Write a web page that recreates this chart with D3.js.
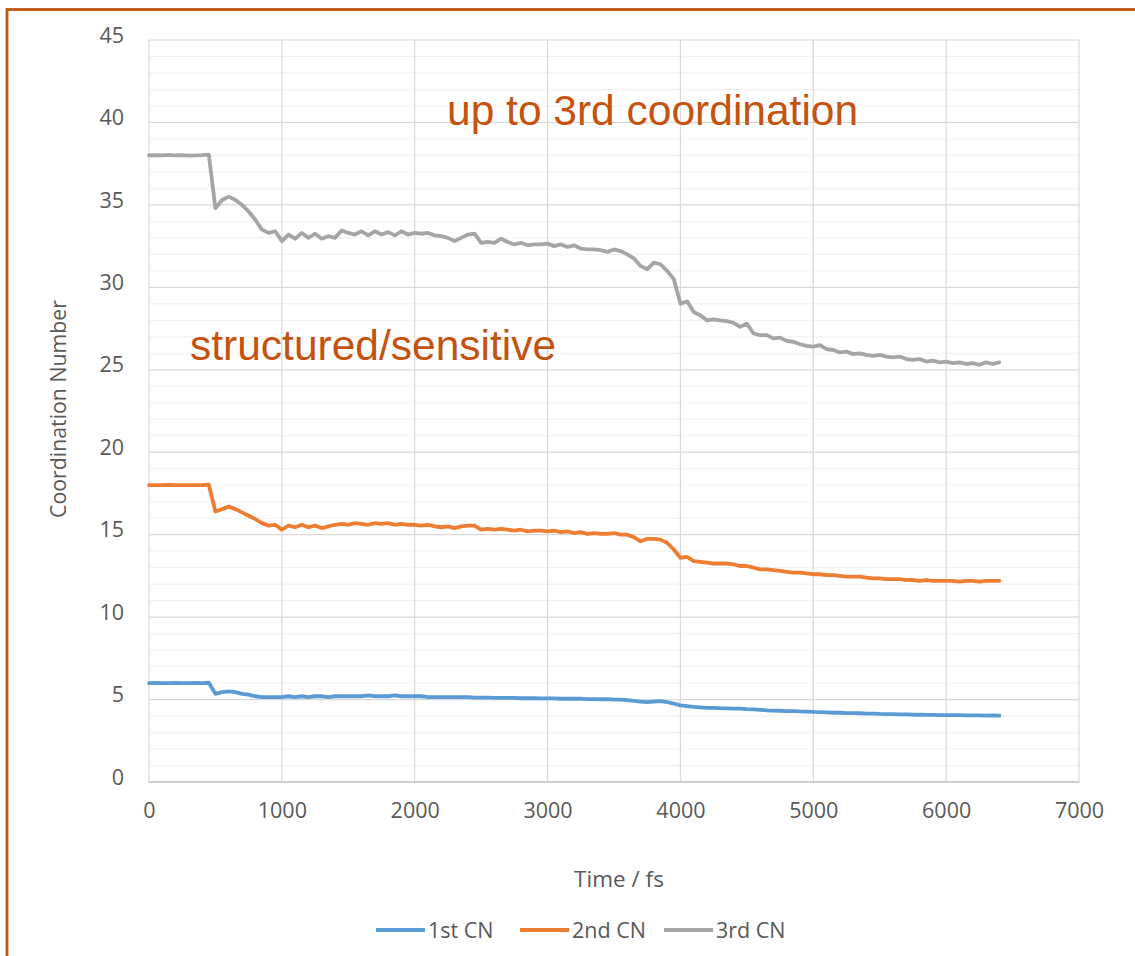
<!DOCTYPE html>
<html>
<head>
<meta charset="utf-8">
<script src="https://cdn.jsdelivr.net/npm/d3@7"></script>
<style>
  html, body { margin: 0; padding: 0; background: #ffffff; }
  svg { display: block; }
</style>
</head>
<body>
<svg id="chart" width="1135" height="956"></svg>
<script>
// Coordination numbers sampled every 50 fs, from 0 to 6400 fs
const timeStep = 50;

const cn1st = [
  6.0, 6.01, 6.0, 6.0, 6.01, 6.0, 6.0, 6.01, 6.0, 6.02,
  5.35, 5.45, 5.5, 5.45, 5.35, 5.3, 5.2, 5.15, 5.15, 5.15,
  5.15, 5.2, 5.15, 5.2, 5.15, 5.2, 5.2, 5.15, 5.2, 5.2,
  5.2, 5.2, 5.2, 5.25, 5.2, 5.2, 5.2, 5.25, 5.2, 5.2,
  5.2, 5.2, 5.15, 5.15, 5.15, 5.15, 5.15, 5.15, 5.15, 5.12,
  5.12, 5.12, 5.1, 5.1, 5.1, 5.1, 5.08, 5.08, 5.08, 5.07,
  5.07, 5.07, 5.05, 5.05, 5.05, 5.05, 5.03, 5.03, 5.02, 5.02,
  5.0, 5.0, 4.97, 4.92, 4.88, 4.85, 4.88, 4.9, 4.85, 4.75,
  4.65, 4.6, 4.55, 4.53, 4.5, 4.5, 4.48, 4.47, 4.45, 4.45,
  4.42, 4.4, 4.38, 4.35, 4.33, 4.32, 4.3, 4.3, 4.28, 4.27,
  4.25, 4.24, 4.22, 4.2, 4.2, 4.18, 4.18, 4.17, 4.15, 4.15,
  4.13, 4.12, 4.12, 4.1, 4.1, 4.08, 4.08, 4.07, 4.07, 4.06,
  4.05, 4.05, 4.05, 4.04, 4.04, 4.04, 4.03, 4.04, 4.03
];

const cn2nd = [
  18.0, 18.01, 18.0, 18.02, 18.0, 18.01, 18.0, 18.0, 18.01, 18.03,
  16.4, 16.55, 16.7, 16.55, 16.35, 16.15, 15.95, 15.7, 15.55, 15.6,
  15.3, 15.55, 15.45, 15.6, 15.45, 15.55, 15.4, 15.5, 15.6, 15.65,
  15.6, 15.7, 15.65, 15.6, 15.7, 15.65, 15.7, 15.6, 15.65, 15.6,
  15.6, 15.55, 15.6, 15.5, 15.45, 15.5, 15.4, 15.5, 15.55, 15.55,
  15.3, 15.35, 15.3, 15.35, 15.3, 15.25, 15.3, 15.2, 15.25, 15.25,
  15.2, 15.25, 15.15, 15.2, 15.1, 15.15, 15.05, 15.1, 15.05, 15.05,
  15.1, 15.0, 15.0, 14.85, 14.6, 14.75, 14.75, 14.7, 14.5, 14.1,
  13.6, 13.65, 13.4, 13.35, 13.3, 13.25, 13.25, 13.25, 13.2, 13.1,
  13.1, 13.0, 12.9, 12.9, 12.85, 12.8, 12.75, 12.7, 12.7, 12.65,
  12.6, 12.6, 12.55, 12.55, 12.5, 12.45, 12.45, 12.45, 12.4, 12.35,
  12.35, 12.3, 12.3, 12.3, 12.25, 12.25, 12.2, 12.25, 12.2, 12.2,
  12.2, 12.2, 12.15, 12.2, 12.2, 12.15, 12.2, 12.2, 12.2
];

const cn3rd = [
  38.0, 38.02, 38.0, 38.03, 38.0, 38.02, 37.99, 38.0, 38.02, 38.05,
  34.8, 35.3, 35.5, 35.3, 35.0, 34.6, 34.1, 33.5, 33.3, 33.4,
  32.8, 33.2, 32.95, 33.3, 33.0, 33.25, 32.95, 33.1, 33.0, 33.45,
  33.3, 33.2, 33.4, 33.15, 33.4, 33.2, 33.35, 33.15, 33.4, 33.2,
  33.3, 33.25, 33.3, 33.15, 33.1, 33.0, 32.8, 33.0, 33.2, 33.25,
  32.7, 32.75, 32.7, 32.95, 32.75, 32.6, 32.7, 32.55, 32.6, 32.6,
  32.65, 32.5, 32.6, 32.45, 32.55, 32.35, 32.3, 32.3, 32.25, 32.15,
  32.3, 32.2, 32.0, 31.75, 31.3, 31.1, 31.5, 31.4, 31.0, 30.5,
  29.0, 29.15, 28.5, 28.3, 28.0, 28.05, 28.0, 27.95, 27.85, 27.6,
  27.8, 27.2, 27.1, 27.1, 26.9, 26.95, 26.75, 26.7, 26.55, 26.45,
  26.4, 26.5, 26.25, 26.2, 26.05, 26.1, 25.95, 26.0, 25.9, 25.85,
  25.9, 25.8, 25.75, 25.8, 25.65, 25.6, 25.65, 25.5, 25.55, 25.45,
  25.5, 25.4, 25.45, 25.35, 25.4, 25.3, 25.45, 25.35, 25.45
];

const seriesNames = ["1st CN", "2nd CN", "3rd CN"];
const seriesColors = ["#5B9BD5", "#ED7D31", "#A5A5A5"];
const xTicks = [0, 1000, 2000, 3000, 4000, 5000, 6000, 7000];
const yTicks = [0, 5, 10, 15, 20, 25, 30, 35, 40, 45];
const yMinorTicks = d3.range(0, 46, 1);
const xTitle = "Time / fs";
const yTitle = "Coordination Number";
const noteTop = "up to 3rd coordination";
const noteMid = "structured/sensitive";

const svg = d3.select("#chart");
const W = 1135, H = 956;
const plot = { left: 149, right: 1079, top: 40, bottom: 782 };

const labelFont = "'Open Sans', 'DejaVu Sans', sans-serif";
const labelColor = "#595959";
const accent = "#C4530F";

svg.append("rect").attr("width", W).attr("height", H).attr("fill", "#ffffff");

// Frame around the slide region
svg.append("rect")
  .attr("x", 7).attr("y", 9.5)
  .attr("width", W + 20).attr("height", H + 20)
  .attr("fill", "none")
  .attr("stroke", accent)
  .attr("stroke-width", 2.8);

const x = d3.scaleLinear().domain([0, 7000]).range([plot.left, plot.right]);
const y = d3.scaleLinear().domain([0, 45]).range([plot.bottom, plot.top]);

// Minor horizontal gridlines
svg.append("g")
  .selectAll("line")
  .data(yMinorTicks.filter(v => v % 5 !== 0))
  .join("line")
  .attr("x1", plot.left).attr("x2", plot.right)
  .attr("y1", d => y(d)).attr("y2", d => y(d))
  .attr("stroke", "#efefef").attr("stroke-width", 1);

// Major horizontal gridlines
svg.append("g")
  .selectAll("line")
  .data(yTicks.filter(v => v !== 0))
  .join("line")
  .attr("x1", plot.left).attr("x2", plot.right)
  .attr("y1", d => y(d)).attr("y2", d => y(d))
  .attr("stroke", "#d9d9d9").attr("stroke-width", 1.2);

// Vertical gridlines
svg.append("g")
  .selectAll("line")
  .data(xTicks)
  .join("line")
  .attr("x1", d => x(d)).attr("x2", d => x(d))
  .attr("y1", plot.top).attr("y2", plot.bottom)
  .attr("stroke", "#d9d9d9").attr("stroke-width", 1.2);

// Horizontal axis line
svg.append("line")
  .attr("x1", plot.left).attr("x2", plot.right)
  .attr("y1", y(0)).attr("y2", y(0))
  .attr("stroke", "#bfbfbf").attr("stroke-width", 1.5);

// Axes (labels only; lines handled above)
const xAxis = svg.append("g")
  .attr("transform", `translate(0,${plot.bottom + 18})`)
  .call(d3.axisBottom(x).tickValues(xTicks).tickSize(0).tickFormat(d3.format("d")));
xAxis.select(".domain").remove();
xAxis.selectAll("text")
  .attr("font-family", labelFont).attr("font-size", 21.5)
  .attr("fill", labelColor).attr("dy", "0.71em");

const yAxis = svg.append("g")
  .attr("transform", `translate(${plot.left - 22},0)`)
  .call(d3.axisLeft(y).tickValues(yTicks).tickSize(0).tickFormat(d3.format("d")));
yAxis.select(".domain").remove();
yAxis.selectAll("text")
  .attr("font-family", labelFont).attr("font-size", 21.5)
  .attr("fill", labelColor).attr("dy", "0.1em");

// Axis titles
svg.append("text")
  .attr("x", 619).attr("y", 887)
  .attr("text-anchor", "middle")
  .attr("font-family", labelFont).attr("font-size", 22.5)
  .attr("fill", labelColor)
  .text(xTitle);

svg.append("text")
  .attr("transform", `translate(66,409) rotate(-90)`)
  .attr("text-anchor", "middle")
  .attr("font-family", labelFont).attr("font-size", 21.3)
  .attr("fill", labelColor)
  .text(yTitle);

// Series lines
const series = [cn1st, cn2nd, cn3rd].map((vals, i) => ({
  name: seriesNames[i],
  color: seriesColors[i],
  points: vals.map((v, j) => [j * timeStep, v])
}));

const line = d3.line()
  .x(d => x(d[0]))
  .y(d => y(d[1]));

svg.append("g")
  .selectAll("path")
  .data(series)
  .join("path")
  .attr("d", d => line(d.points))
  .attr("fill", "none")
  .attr("stroke", d => d.color)
  .attr("stroke-width", 3.8)
  .attr("stroke-linejoin", "round")
  .attr("stroke-linecap", "round");

// Legend
const legendX = [376, 520, 664];
const legend = svg.append("g")
  .selectAll("g")
  .data(series)
  .join("g")
  .attr("transform", (d, i) => `translate(${legendX[i]},930)`);
legend.append("line")
  .attr("x1", 0).attr("x2", 49)
  .attr("y1", 0).attr("y2", 0)
  .attr("stroke", d => d.color)
  .attr("stroke-width", 3.8);
legend.append("text")
  .attr("x", 52).attr("y", 0)
  .attr("dy", "0.35em")
  .attr("font-family", labelFont).attr("font-size", 21.5)
  .attr("fill", labelColor)
  .text(d => d.name);

// Annotations
svg.append("text")
  .attr("x", 447).attr("y", 125)
  .attr("font-family", "'Liberation Sans', Arial, sans-serif")
  .attr("font-size", 42.5)
  .attr("fill", accent)
  .text(noteTop);

svg.append("text")
  .attr("x", 190).attr("y", 360)
  .attr("font-family", "'Liberation Sans', Arial, sans-serif")
  .attr("font-size", 42.5)
  .attr("fill", accent)
  .text(noteMid);
</script>
</body>
</html>
